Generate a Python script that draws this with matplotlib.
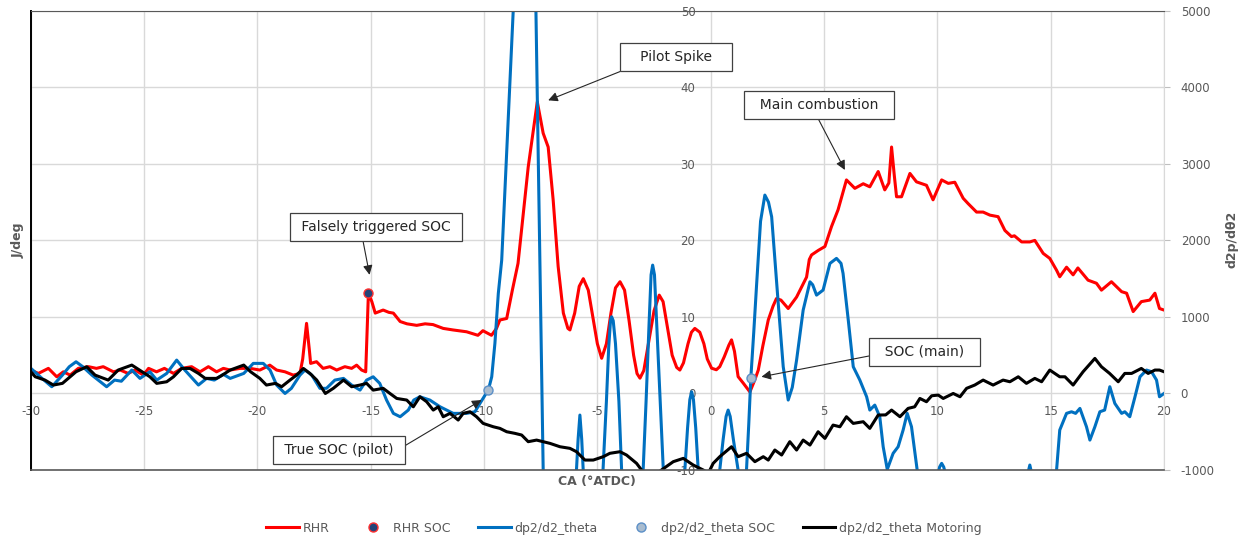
import matplotlib
matplotlib.use("Agg")
import matplotlib.pyplot as plt
from matplotlib.lines import Line2D

plt.rcParams['font.family'] = ['DejaVu Sans']
plt.rcParams['axes.unicode_minus'] = False

GREY_TXT = '#595959'
GRID = '#d9d9d9'

# rate of heat release, J/deg (left axis)
rhr_ca = [-30.0, -29.66, -29.22, -28.85, -28.56, -28.26, -27.9, -27.45, -27.1, -26.8,
          -26.35, -26.05, -25.7, -25.4, -25.03, -24.8, -24.45, -24.1, -23.7, -23.34,
          -22.9, -22.53, -22.16, -21.8, -21.5, -21.2, -20.76, -20.32, -19.89, -19.45,
          -19.15, -18.78, -18.42, -18.12, -18.0, -17.83, -17.7, -17.65, -17.39, -17.1,
          -16.8, -16.5, -16.14, -15.84, -15.62, -15.4, -15.22, -15.1, -14.95, -14.8,
          -14.45, -14.2, -14.0, -13.7, -13.4, -12.97, -12.6, -12.25, -11.8, -11.37,
          -10.77, -10.27, -10.05, -9.67, -9.45, -9.3, -9.0, -8.75, -8.5, -8.05,
          -7.65, -7.39, -7.17, -6.95, -6.73, -6.5, -6.3, -6.21, -6.0, -5.8,
          -5.62, -5.4, -5.2, -5.0, -4.81, -4.6, -4.4, -4.2, -4.0, -3.8,
          -3.6, -3.4, -3.25, -3.12, -2.95, -2.75, -2.5, -2.27, -2.1, -1.9,
          -1.7, -1.5, -1.36, -1.2, -1.0, -0.85, -0.7, -0.48, -0.3, -0.15,
          0.04, 0.25, 0.4, 0.6, 0.8, 0.92, 1.05, 1.21, 1.45, 1.73,
          1.95, 2.1, 2.3, 2.54, 2.75, 2.9, 3.1, 3.42, 3.79, 4.23,
          4.35, 4.45, 4.75, 5.04, 5.33, 5.62, 5.99, 6.36, 6.73, 7.02,
          7.39, 7.68, 7.86, 7.98, 8.1, 8.2, 8.42, 8.79, 9.08, 9.52,
          9.81, 10.19, 10.48, 10.77, 11.14, 11.36, 11.73, 12.02, 12.32, 12.68,
          12.98, 13.27, 13.4, 13.72, 14.08, 14.3, 14.67, 14.96, 15.26, 15.4,
          15.7, 15.99, 16.2, 16.65, 17.02, 17.24, 17.68, 18.13, 18.35, 18.64,
          19.0, 19.37, 19.6, 19.8, 20.0]
rhr = [3.06, 2.62, 3.28, 2.18, 2.83, 2.4, 3.28, 3.5, 3.28, 3.5,
       2.83, 3.06, 2.62, 3.06, 2.4, 3.28, 2.83, 3.28, 2.62, 3.28,
       3.5, 2.83, 3.5, 2.83, 3.28, 3.06, 3.28, 3.28, 3.06, 3.7,
       3.06, 2.83, 2.4, 2.62, 4.5, 9.16, 5.5, 3.93, 4.15, 3.28,
       3.5, 3.06, 3.5, 3.28, 3.7, 3.06, 2.83, 13.15, 12.0, 10.5,
       10.9, 10.6, 10.5, 9.4, 9.1, 8.9, 9.1, 9.0, 8.5, 8.3,
       8.06, 7.6, 8.2, 7.6, 8.5, 9.6, 9.8, 13.5, 17.0, 29.6,
       38.1, 34.0, 32.2, 25.3, 16.6, 10.5, 8.5, 8.3, 10.5, 14.0,
       15.0, 13.5, 10.0, 6.5, 4.6, 6.5, 10.5, 13.8, 14.6, 13.5,
       9.5, 5.0, 2.6, 2.0, 3.0, 6.5, 10.8, 12.85, 12.0, 8.5,
       5.0, 3.4, 3.06, 4.0, 6.5, 8.0, 8.5, 8.0, 6.5, 4.5,
       3.3, 3.1, 3.5, 4.8, 6.3, 7.0, 5.5, 2.2, 1.3, 0.2,
       1.8, 3.06, 6.2, 9.6, 11.4, 12.4, 12.2, 11.1, 12.6, 15.2,
       17.5, 18.1, 18.7, 19.2, 21.8, 24.0, 27.9, 26.8, 27.4, 27.0,
       29.0, 26.6, 27.5, 32.2, 28.5, 25.7, 25.7, 28.75, 27.65, 27.2,
       25.3, 27.9, 27.45, 27.6, 25.5, 24.8, 23.7, 23.7, 23.3, 23.1,
       21.3, 20.5, 20.6, 19.8, 19.8, 20.0, 18.3, 17.65, 16.1, 15.25,
       16.5, 15.5, 16.4, 14.8, 14.4, 13.5, 14.6, 13.3, 13.1, 10.7,
       12.0, 12.2, 13.1, 11.1, 10.9]
rhr_soc_ca = [-15.1]
rhr_soc = [13.15]

# second derivative of pressure (right axis)
d2p_ca = [-30.0, -29.5, -29.07, -28.6, -28.3, -28.0, -27.7, -27.3, -26.65, -26.3,
          -26.0, -25.54, -25.18, -24.74, -24.44, -24.0, -23.56, -23.2, -22.6, -22.24,
          -21.9, -21.5, -21.2, -20.6, -20.18, -19.74, -19.44, -19.15, -18.78, -18.5,
          -18.12, -17.9, -17.6, -17.24, -16.95, -16.58, -16.2, -15.84, -15.47, -15.18,
          -14.89, -14.6, -14.3, -14.0, -13.7, -13.34, -13.1, -12.83, -12.39, -11.94,
          -11.36, -10.77, -10.4, -10.18, -9.95, -9.81, -9.66, -9.52, -9.37, -9.22,
          -8.71, -8.0, -7.71, -7.53, -7.39, -7.2, -6.6, -6.1, -5.95, -5.85,
          -5.77, -5.69, -5.6, -5.2, -4.75, -4.6, -4.5, -4.42, -4.37, -4.3,
          -4.2, -4.05, -3.93, -3.45, -2.98, -2.85, -2.72, -2.63, -2.56, -2.48,
          -2.38, -2.23, -2.09, -1.6, -1.14, -1.02, -0.92, -0.84, -0.76, -0.66,
          -0.55, -0.1, 0.4, 0.55, 0.68, 0.77, 0.86, 1.0, 1.21, 1.4,
          1.58, 1.68, 1.77, 1.9, 2.02, 2.2, 2.39, 2.55, 2.69, 2.98,
          3.2, 3.42, 3.6, 3.79, 4.08, 4.38, 4.5, 4.67, 4.96, 5.26,
          5.55, 5.75, 5.84, 6.07, 6.29, 6.58, 6.88, 7.02, 7.24, 7.46,
          7.61, 7.79, 8.05, 8.27, 8.49, 8.67, 8.86, 9.11, 9.5, 9.95,
          10.1, 10.19, 10.28, 10.45, 11.5, 13.5, 13.95, 14.08, 14.2, 14.6,
          15.1, 15.26, 15.4, 15.7, 15.92, 16.1, 16.29, 16.58, 16.73, 16.95,
          17.17, 17.38, 17.61, 17.83, 18.13, 18.27, 18.49, 18.72, 18.94, 19.23,
          19.45, 19.67, 19.8, 20.0]
d2p = [330, 197, 88, 240, 349, 414, 349, 240, 88, 175,
       160, 306, 197, 284, 175, 262, 436, 306, 110, 197,
       175, 250, 197, 262, 393, 393, 306, 110, 0, 67,
       240, 306, 240, 67, 67, 175, 197, 110, 44, 175,
       218, 132, -86, -260, -304, -217, -86, -43, -86, -174,
       -260, -260, -239, -130, -20, 44, 218, 654, 1307, 1742,
       5008, 9700, 5000, 1655, -1000, -2000, -3000, -2000, -1150, -600,
       -282, -600, -1150, -2300, -1000, -100, 600, 950, 1002, 950,
       650, -100, -1000, -2400, -1000, -100, 900, 1550, 1677, 1550,
       900, -100, -1000, -2200, -1000, -450, -80, 22, -80, -450,
       -1000, -1800, -1000, -600, -300, -217, -300, -600, -1000, -1500,
       -1000, -400, 197, 800, 1394, 2250, 2592, 2500, 2308, 1177,
       350, -86, 80, 436, 1089, 1459, 1420, 1285, 1351, 1699,
       1765, 1700, 1569, 959, 349, 175, -43, -217, -152, -304,
       -696, -992, -782, -696, -478, -260, -435, -1000, -1600, -1150,
       -960, -913, -960, -1150, -2500, -2000, -1100, -935, -1100, -2000,
       -1500, -1000, -478, -260, -239, -260, -195, -435, -609, -435,
       -239, -217, 88, -130, -260, -239, -304, -43, 218, 306,
       284, 175, -43, 0]
d2p_soc_ca = [-9.81, 1.77]
d2p_soc = [44, 197]

# motoring trace of the same derivative (right axis)
mot_ca = [-30.0, -29.8, -29.37, -29.0, -28.6, -28.0, -27.53, -27.16, -26.58, -26.14,
          -25.54, -25.2, -24.74, -24.44, -24.0, -23.7, -23.34, -22.97, -22.6, -22.3,
          -21.8, -21.6, -21.2, -20.6, -20.3, -19.89, -19.6, -19.2, -18.93, -18.56,
          -18.27, -17.97, -17.68, -17.38, -17.0, -16.65, -16.2, -15.84, -15.47, -15.18,
          -14.89, -14.45, -14.15, -13.85, -13.41, -13.12, -12.83, -12.53, -12.24, -12.02,
          -11.8, -11.5, -11.14, -10.92, -10.62, -10.33, -10.04, -9.59, -9.3, -9.0,
          -8.64, -8.34, -8.05, -7.68, -7.39, -7.09, -6.65, -6.21, -5.92, -5.55,
          -5.18, -4.74, -4.45, -4.0, -3.71, -3.27, -3.05, -2.6, -2.17, -1.65,
          -1.21, -0.77, -0.33, -0.1, 0.11, 0.4, 0.92, 1.21, 1.58, 1.95,
          2.32, 2.54, 2.83, 3.13, 3.49, 3.79, 4.08, 4.38, 4.74, 5.04,
          5.4, 5.7, 5.99, 6.29, 6.73, 7.02, 7.39, 7.72, 7.98, 8.35,
          8.71, 9.0, 9.23, 9.52, 9.75, 10.04, 10.26, 10.7, 11.0, 11.29,
          11.65, 12.02, 12.46, 12.9, 13.2, 13.57, 13.93, 14.3, 14.6, 14.96,
          15.4, 15.63, 15.99, 16.43, 16.95, 17.24, 17.6, 17.98, 18.27, 18.57,
          19.0, 19.3, 19.6, 19.8, 20.0]
mot = [284, 218, 175, 110, 132, 284, 349, 240, 175, 306,
       371, 306, 218, 132, 153, 218, 327, 327, 262, 197,
       197, 230, 306, 371, 284, 197, 110, 132, 88, 175,
       240, 327, 262, 175, 0, 67, 175, 88, 110, 132,
       44, 67, 0, -65, -86, -174, -43, -108, -217, -174,
       -304, -260, -347, -260, -239, -304, -391, -435, -456, -500,
       -521, -543, -630, -609, -630, -652, -696, -717, -761, -870,
       -870, -826, -782, -761, -805, -913, -1000, -1100, -1000, -891,
       -848, -935, -1000, -1040, -913, -826, -696, -826, -782, -891,
       -826, -870, -739, -804, -630, -739, -609, -674, -500, -587,
       -413, -435, -304, -391, -369, -456, -282, -280, -217, -304,
       -195, -174, -65, -108, -30, -21, -65, 0, -43, 67,
       110, 175, 110, 175, 153, 218, 132, 197, 153, 306,
       218, 218, 110, 284, 458, 349, 262, 153, 262, 262,
       327, 262, 306, 306, 284]

x_ticks = [-30, -25, -20, -15, -10, -5, 0, 5, 10, 15, 20]
left_ticks = [-10, 0, 10, 20, 30, 40, 50]
right_ticks = [-1000, 0, 1000, 2000, 3000, 4000, 5000]

fig = plt.figure(figsize=(12.48, 5.39), dpi=100)
ax = fig.add_axes([0.0246, 0.128, 0.9081, 0.852])
ax2 = ax.twinx()

ax.set_xlim(-30, 20)
ax.set_ylim(-10, 50)
ax2.set_ylim(-1000, 5000)

ax.set_xticks(x_ticks)
ax.set_yticks(left_ticks)
ax2.set_yticks(right_ticks)
ax.grid(True, color=GRID, lw=1.0)
ax.set_axisbelow(True)

# left axis labels sit on x = 0, category labels sit on y = 0
for side in ('top', 'right'):
    ax.spines[side].set_visible(False)
ax.spines['left'].set_position(('data', 0))
ax.spines['bottom'].set_position(('data', 0))
ax.spines['left'].set_color('none')
ax.spines['bottom'].set_color('none')
ax.tick_params(axis='x', length=0, pad=8, labelsize=8.5, labelcolor=GREY_TXT)
ax.tick_params(axis='y', length=0, pad=11, labelsize=8.5, labelcolor=GREY_TXT)

ax2.spines['left'].set_color('black')
ax2.spines['left'].set_linewidth(1.4)
ax2.spines['top'].set_color('#595959')
ax2.spines['bottom'].set_color('#595959')
ax2.spines['bottom'].set_linewidth(1.2)
ax2.spines['right'].set_color(GRID)
ax2.tick_params(axis='y', direction='out', length=4, color='#bfbfbf',
                pad=8, labelsize=8.5, labelcolor=GREY_TXT)

ax.plot(rhr_ca, rhr, color='#ff0000', lw=2.2, solid_joinstyle='round')
ax.plot(rhr_soc_ca, rhr_soc, 'o', ms=6.5, mfc='#264478', mec='#ff3030', mew=1.0, zorder=5)
ax2.plot(d2p_ca, d2p, color='#0070c0', lw=2.2, solid_joinstyle='round')
ax2.plot(mot_ca, mot, color='black', lw=2.2, solid_joinstyle='round')
ax2.plot(d2p_soc_ca, d2p_soc, 'o', ms=6.5, mfc='#a9bccf', mec='#5b8fc7', mew=1.0, zorder=5)

fig.text(0.0144, 0.555, 'J/deg', rotation=90, ha='center', va='center',
         fontsize=9, fontweight='bold', color=GREY_TXT)
fig.text(0.987, 0.555, 'd2p/dθ2', rotation=90, ha='center', va='center',
         fontsize=9, fontweight='bold', color=GREY_TXT)
fig.text(0.478, 0.106, 'CA (°ATDC)', ha='center', va='center',
         fontsize=9, fontweight='bold', color=GREY_TXT)

# callouts: (text, box centre, arrow tip, arrow start on box)
callouts = [
    (' Falsely triggered SOC ', (-14.77, 21.74), (-15.05, 15.5), (0.41, 0.0)),
    ('   Pilot Spike   ', (-1.51, 43.95), (-7.17, 38.3), (0.115, 0.0)),
    ('  Main combustion  ', (4.79, 37.74), (5.92, 29.2), (0.465, 0.0)),
    ('  SOC (main)  ', (9.45, 5.45), (2.24, 2.18), (0.0, 0.3)),
    (' True SOC (pilot) ', (-16.41, -7.39), (-10.11, -0.86), (1.0, 0.5)),
]
for label, box_xy, tip_xy, rel in callouts:
    ax2.annotate(label, xy=tip_xy, xytext=box_xy, xycoords=ax.transData,
                 textcoords=ax.transData, ha='center', va='center', fontsize=10,
                 color='#262626', zorder=10,
                 bbox=dict(boxstyle='square,pad=0.5', fc='white', ec='#404040', lw=0.9),
                 arrowprops=dict(arrowstyle='-|>', color='#262626', lw=0.8,
                                 mutation_scale=14, relpos=rel,
                                 shrinkA=0, shrinkB=0))

handles = [
    Line2D([], [], color='#ff0000', lw=2.2),
    Line2D([], [], ls='none', marker='o', ms=6.5, mfc='#264478', mec='#ff3030'),
    Line2D([], [], color='#0070c0', lw=2.2),
    Line2D([], [], ls='none', marker='o', ms=6.5, mfc='#a9bccf', mec='#5b8fc7'),
    Line2D([], [], color='black', lw=2.2),
]
labels = ['RHR', 'RHR SOC', 'dp2/d2_theta', 'dp2/d2_theta SOC', 'dp2/d2_theta Motoring']
fig.legend(handles, labels, loc='center', bbox_to_anchor=(0.5, 0.0204), ncol=5,
           frameon=False, fontsize=9, labelcolor=GREY_TXT, handlelength=2.6,
           handletextpad=0.3, columnspacing=2.2)

fig.savefig('out.png', dpi=100)
